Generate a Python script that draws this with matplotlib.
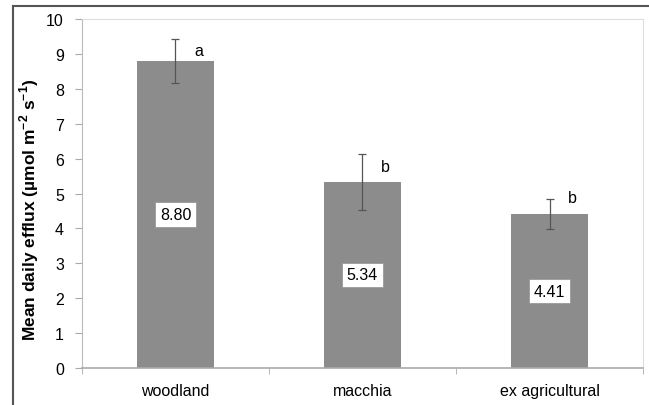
import numpy as np
import matplotlib.pyplot as plt
from matplotlib.lines import Line2D

plt.rcParams['font.family'] = ['Liberation Sans', 'DejaVu Sans']
plt.rcParams['mathtext.fontset'] = 'custom'
plt.rcParams['mathtext.rm'] = 'Liberation Sans'
plt.rcParams['mathtext.bf'] = 'Liberation Sans:bold'

# data
sites = ["woodland", "macchia", "ex agricultural"]
efflux = [8.80, 5.34, 4.41]
errors = [0.62, 0.80, 0.42]
letters = ["a", "b", "b"]
letter_y = [9.1, 5.78, 4.9]

fig = plt.figure(figsize=(6.49, 4.06), dpi=100)
ax = fig.add_axes([0.1263, 0.0911, 0.8645, 0.8596])

x = np.arange(len(sites))
ax.bar(x, efflux, width=0.41, color="#8c8c8c", zorder=2)
ax.errorbar(x, efflux, yerr=errors, fmt="none", ecolor="#555555",
            elinewidth=0.9, capsize=3, capthick=0.9, zorder=3)

for xi, v, lab, ly in zip(x, efflux, letters, letter_y):
    ax.text(xi, v / 2, f"{v:.2f}", ha="center", va="center", fontsize=11.5,
            bbox=dict(boxstyle="square,pad=0.3", fc="white", ec="#999999", lw=0.6),
            zorder=4)
    ax.text(xi + 0.1, ly, lab, ha="left", va="center", fontsize=11.5, zorder=4)

ax.set_xlim(-0.5, 2.5)
ax.set_ylim(0, 10)
ax.set_yticks(range(0, 11))
ax.set_xticks(x)
ax.set_xticklabels(sites, fontsize=11.5)
ax.set_xticks([-0.5, 0.5, 1.5, 2.5], minor=True)
ax.tick_params(axis="x", which="major", length=0, pad=11)
ax.tick_params(axis="x", which="minor", length=4, color="#aaaaaa", direction="out")
ax.tick_params(axis="y", length=5, color="#aaaaaa", labelsize=11.5, pad=8)

for s in ["top", "right"]:
    ax.spines[s].set_color("#dddddd")
ax.spines["left"].set_color("#bbbbbb")
ax.spines["bottom"].set_color("#aaaaaa")
ax.spines["bottom"].set_linewidth(1.2)

ax.set_ylabel(r"Mean daily efflux (µmol m$^{\mathbf{-2}}$ s$^{\mathbf{-1}}$)",
              fontsize=12.5, fontweight="bold")
ax.yaxis.set_label_coords(-0.073, 0.456)

# outer frame of the original figure
fig.add_artist(Line2D([13 / 649, 13 / 649], [0, 1 - 7 / 406],
                      transform=fig.transFigure, color="#555555", lw=1.5))
fig.add_artist(Line2D([13 / 649, 1], [1 - 7 / 406, 1 - 7 / 406],
                      transform=fig.transFigure, color="#555555", lw=1.5))

fig.savefig("out.png", dpi=100)
